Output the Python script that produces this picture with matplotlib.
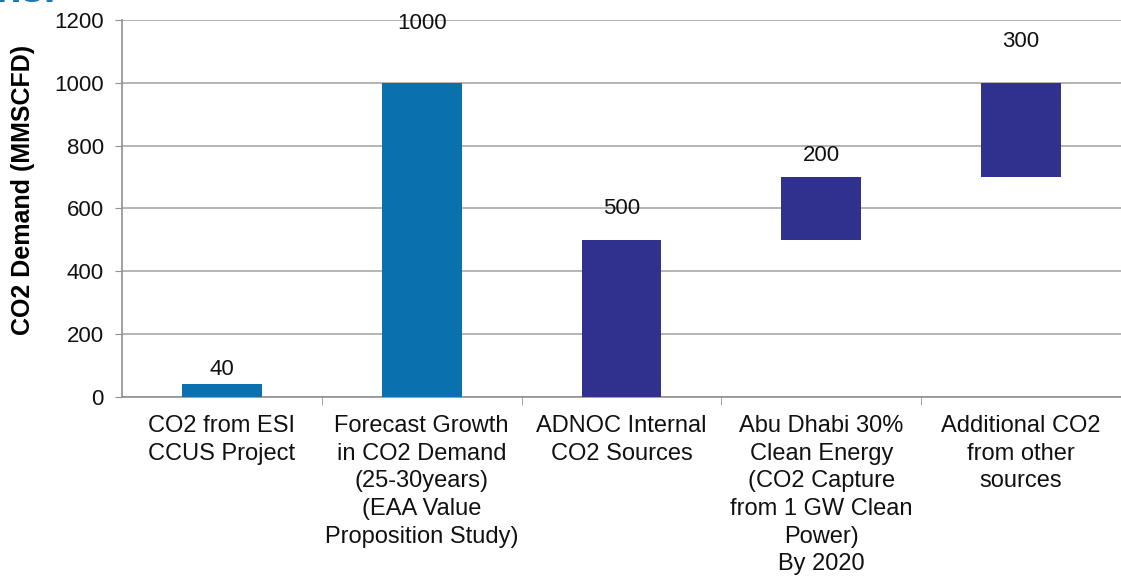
import numpy as np
import matplotlib.pyplot as plt
from matplotlib.ticker import FixedLocator

plt.rcParams['font.family'] = ['Liberation Sans', 'DejaVu Sans']

categories = ["CO2 from ESI\nCCUS Project",
              "Forecast Growth\nin CO2 Demand\n(25-30years)\n(EAA Value\nProposition Study)",
              "ADNOC Internal\nCO2 Sources",
              "Abu Dhabi 30%\nClean Energy\n(CO2 Capture\nfrom 1 GW Clean\nPower)\nBy 2020",
              "Additional CO2\nfrom other\nsources"]
values = [40, 1000, 500, 200, 300]
# first two are standalone totals, the rest stack up as a waterfall
is_step = [False, False, True, True, True]

bottoms = []
run = 0
for v, s in zip(values, is_step):
    if s:
        bottoms.append(run)
        run += v
    else:
        bottoms.append(0)

colors = ['#0b70ae' if not s else '#30318f' for s in is_step]
label_pad = [3, 35, 15, 8, 22]  # points above bar top

fig = plt.figure(figsize=(11.21, 5.79), dpi=100)
ax = fig.add_axes([0.1088, 0.3143, 0.8912, 0.6512])

x = np.arange(len(values))
ax.bar(x, values, bottom=bottoms, width=0.4, color=colors, zorder=3)

for xi, v, b, p in zip(x, values, bottoms, label_pad):
    ax.annotate(str(v), (xi, b + v), xytext=(0, p), textcoords='offset points',
                ha='center', va='bottom', fontsize=16, color='#111111')

ax.set_xlim(-0.5, 4.5)
ax.set_ylim(0, 1200)
ax.set_yticks(range(0, 1201, 200))
ax.yaxis.grid(True, color='#a8a8a8', linewidth=1.2, zorder=0)
ax.set_axisbelow(True)

ax.set_xticks(x)
ax.set_xticklabels(categories, fontsize=17, linespacing=1.33, color='#111111')
ax.xaxis.set_minor_locator(FixedLocator([0.5, 1.5, 2.5, 3.5]))
ax.tick_params(axis='x', which='major', length=0, pad=13)
ax.tick_params(axis='x', which='minor', length=6, color='#909090')
ax.tick_params(axis='y', length=5, color='#909090', labelsize=16, pad=8,
               labelcolor='#111111')

for s in ['top', 'right']:
    ax.spines[s].set_visible(False)
for s in ['left', 'bottom']:
    ax.spines[s].set_color('#909090')
    ax.spines[s].set_linewidth(1.2)

ax.set_ylabel("CO2 Demand (MMSCFD)", fontsize=18, fontweight='bold')
ax.yaxis.set_label_coords(-0.087, 0.55)

# tail of the heading that runs off the top edge
fig.text(-0.004, 0.996, "ns.", fontsize=30, fontweight='bold', color='#1a78b8',
         ha='left', va='baseline')

fig.savefig("out.png", dpi=100)
